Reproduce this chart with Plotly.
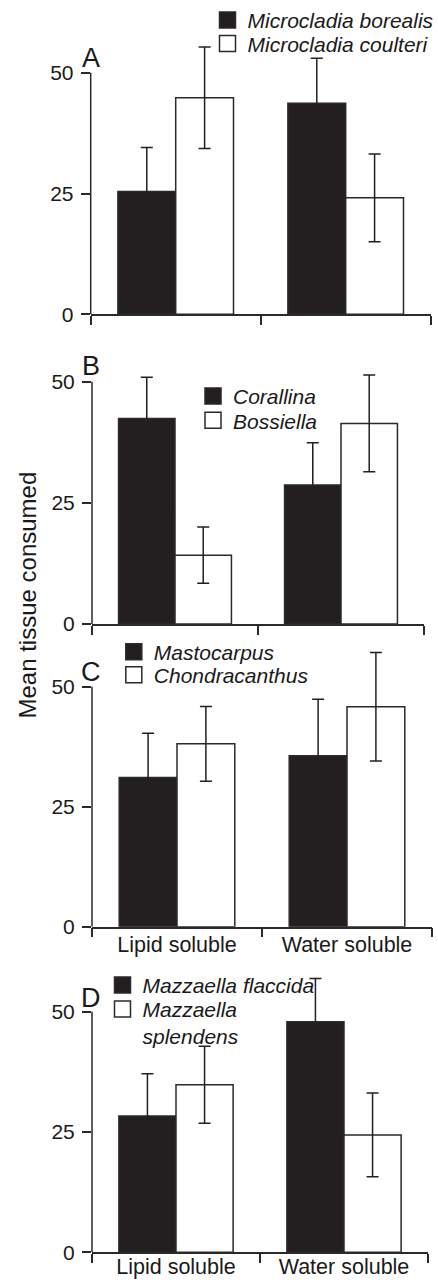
import plotly.graph_objects as go

W, H = 438, 1282
FONT = "Liberation Sans, Arial, Helvetica, sans-serif"
DARK = "#231f20"
EDGE = "#2a2a2a"

# ---------------- data ----------------
categories = ["Lipid soluble", "Water soluble"]
panel_letters = ["A", "B", "C", "D"]
dark_species = ["Microcladia borealis", "Corallina", "Mastocarpus", "Mazzaella flaccida"]
light_species = ["Microcladia coulteri", "Bossiella", "Chondracanthus", "Mazzaella<br>splendens"]
dark_means = [[25.4, 43.7], [42.4, 28.7], [31.1, 35.6], [28.3, 47.9]]
dark_errors = [[9.1, 9.3], [8.5, 8.7], [9.2, 11.8], [8.8, 9.0]]
light_means = [[44.8, 24.1], [14.2, 41.4], [38.1, 45.8], [34.8, 24.4]]
light_errors = [[10.5, 9.1], [5.8, 10.0], [7.8, 11.3], [8.0, 8.7]]
y_tick_values = [0, 25, 50]
y_title = "Mean tissue consumed"

# ---------------- geometry (pixels) ----------------
panels = [
    dict(x0=90.7, x1=430.7, y0=314.3, y50=72.7, labels=False, standoff=0,
         leg=(227.5, 20.0, 43.5), letter=(91, 57.5)),
    dict(x0=92.0, x1=424.0, y0=624.0, y50=381.7, labels=False, standoff=0,
         leg=(213.0, 396.0, 420.3), letter=(91, 365.5)),
    dict(x0=92.0, x1=432.0, y0=926.7, y50=686.7, labels=True, standoff=-2,
         leg=(133.8, 651.7, 674.7), letter=(90.5, 672)),
    dict(x0=92.0, x1=428.0, y0=1252.3, y50=1011.7, labels=True, standoff=-6,
         leg=(122.5, 985.0, 1009.0), letter=(90.5, 997.5)),
]
YMAX = 60
LEG_HALF = 20.15


def px_x(v):
    return v / W


def px_y(v):
    return 1 - v / H


fig = go.Figure()
layout = dict(
    width=W, height=H, autosize=False,
    margin=dict(l=0, r=0, t=0, b=0, pad=0, autoexpand=False),
    paper_bgcolor="white", plot_bgcolor="white",
    barmode="group", bargap=0.32, bargroupgap=0,
    font=dict(family=FONT, color="#1a1a1a"),
    showlegend=True,
)
shapes = []
annotations = []

legend_counter = 0
for i, p in enumerate(panels):
    n = i + 1
    xa = "x" if n == 1 else f"x{n}"
    ya = "y" if n == 1 else f"y{n}"
    xkey = "xaxis" if n == 1 else f"xaxis{n}"
    ykey = "yaxis" if n == 1 else f"yaxis{n}"

    unit = (p["y0"] - p["y50"]) / 50.0
    top_px = p["y0"] - unit * YMAX

    layout[xkey] = dict(
        domain=[px_x(p["x0"]), px_x(p["x1"])], anchor=ya,
        type="category", categoryorder="array", categoryarray=categories,
        range=[-0.5, 1.5], tickson="boundaries",
        showline=True, linecolor=EDGE, linewidth=1.5,
        ticks="outside", ticklen=9, tickwidth=1.5, tickcolor=EDGE,
        showticklabels=p["labels"], ticklabelstandoff=p["standoff"],
        tickfont=dict(size=21.5, family=FONT, color="#1a1a1a"),
        showgrid=False, zeroline=False, fixedrange=True, automargin=False,
    )
    layout[ykey] = dict(
        domain=[px_y(p["y0"]), px_y(top_px)], anchor=xa,
        range=[0, YMAX], tickvals=y_tick_values, ticktext=[str(v) for v in y_tick_values],
        showline=False, ticks="outside", ticklen=9, tickwidth=1.5, tickcolor=EDGE,
        ticklabelstandoff=3,
        tickfont=dict(size=21, family=FONT, color="#1a1a1a"),
        showgrid=False, zeroline=False, fixedrange=True, automargin=False,
    )
    # y axis line from 0 to 50
    shapes.append(dict(type="line", xref=f"{xa} domain", yref=ya, x0=0, x1=0,
                       y0=y_tick_values[0], y1=y_tick_values[-1],
                       line=dict(color=EDGE, width=1.5), layer="above"))

    err_style = dict(type="data", visible=True, color=DARK, thickness=1.5, width=6)
    fig.add_trace(go.Bar(
        x=categories, y=dark_means[i], name=dark_species[i], xaxis=xa, yaxis=ya,
        marker=dict(color=DARK, line=dict(color=EDGE, width=1.5)),
        error_y=dict(array=dark_errors[i], **err_style),
        showlegend=False, offsetgroup="dark",
    ))
    fig.add_trace(go.Bar(
        x=categories, y=light_means[i], name=light_species[i], xaxis=xa, yaxis=ya,
        marker=dict(color="white", line=dict(color=EDGE, width=1.5)),
        error_y=dict(array=light_errors[i], **err_style),
        showlegend=False, offsetgroup="light",
    ))

    # legend entries (one legend per entry so each can be placed exactly)
    lx, ly1, ly2 = p["leg"]
    for name, fill, ly in ((dark_species[i], DARK, ly1), (light_species[i], "white", ly2)):
        legend_counter += 1
        lname = "legend" if legend_counter == 1 else f"legend{legend_counter}"
        fig.add_trace(go.Scatter(
            x=[None], y=[None], mode="markers", name=name, xaxis=xa, yaxis=ya,
            marker=dict(symbol="square", size=16, color=fill, line=dict(color=EDGE, width=1.5)),
            showlegend=True, legend=lname, hoverinfo="skip",
        ))
        layout[lname] = dict(
            x=px_x(lx - 20), y=px_y(ly - LEG_HALF), xanchor="left", yanchor="top",
            bgcolor="rgba(0,0,0,0)", borderwidth=0, valign="top",
            font=dict(size=21, family=FONT, color="#1a1a1a", style="italic"),
            tracegroupgap=0,
        )

    lx_, ly_ = p["letter"]
    annotations.append(dict(text=panel_letters[i], xref="paper", yref="paper",
                            x=px_x(lx_), y=px_y(ly_), xanchor="center", yanchor="middle",
                            showarrow=False, font=dict(size=27, family=FONT, color="#1a1a1a")))

annotations.append(dict(text=y_title, xref="paper", yref="paper", x=px_x(27), y=px_y(595.5),
                        xanchor="center", yanchor="middle", textangle=-90, showarrow=False,
                        font=dict(size=24, family=FONT, color="#1a1a1a")))

layout["shapes"] = shapes
layout["annotations"] = annotations
fig.update_layout(**layout)
fig.write_html("out.html")
